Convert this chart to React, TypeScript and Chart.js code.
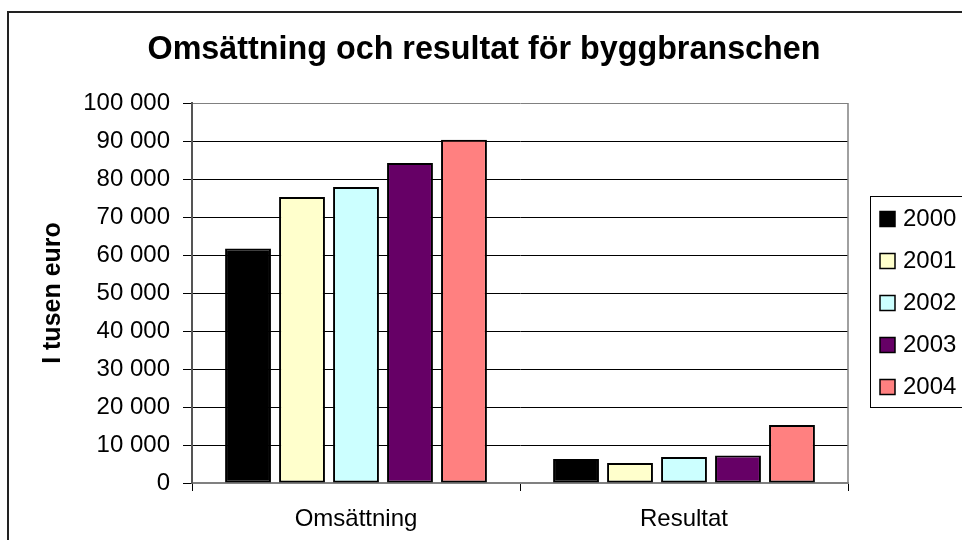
import React, { useEffect, useRef } from "react";
import { Chart, registerables } from "chart.js";
Chart.register(...registerables);

const categories = ["Omsättning", "Resultat"];
const years = ["2000", "2001", "2002", "2003", "2004"];
const omsattning = [61700, 75250, 77900, 84200, 90350];
const resultat = [6300, 5250, 6850, 7250, 15250];
const colors = ["#000000", "#FFFFCC", "#CCFFFF", "#660066", "#FF8080"];
const yMin = 0;
const yMax = 100000;
const yStep = 10000;
const titleText = "Omsättning och resultat för byggbranschen";
const yTitleText = "I tusen euro";

const FONT = "'Liberation Sans', Arial, sans-serif";

const fmt = (v: number) => String(v).replace(/\B(?=(\d{3})+(?!\d))/g, " ");

const framePlugin = {
  id: "frame",
  beforeDraw(chart: any) {
    const ctx = chart.ctx;
    ctx.save();
    ctx.fillStyle = "#ffffff";
    ctx.fillRect(0, 0, chart.width, chart.height);
    ctx.strokeStyle = "#222";
    ctx.lineWidth = 2;
    ctx.strokeRect(8, 12, 1100, 700);
    ctx.restore();
  },
  afterDraw(chart: any) {
    const ctx = chart.ctx;
    const a = chart.chartArea;
    ctx.save();
    // title
    ctx.fillStyle = "#000";
    ctx.font = "bold 32.3px " + FONT;
    ctx.textAlign = "center";
    ctx.textBaseline = "middle";
    ctx.fillText(titleText, 484, 50.5);
    // plot area right border
    ctx.strokeStyle = "#808080";
    ctx.lineWidth = 1.5;
    ctx.beginPath();
    ctx.moveTo(a.right, a.top);
    ctx.lineTo(a.right, a.bottom);
    ctx.stroke();
    // legend
    ctx.strokeStyle = "#000";
    ctx.lineWidth = 1;
    ctx.strokeRect(870.5, 196.5, 200, 211);
    ctx.font = "24px " + FONT;
    ctx.textBaseline = "middle";
    ctx.textAlign = "left";
    chart.data.datasets.forEach((ds: any, i: number) => {
      const y = 219 + 42 * i;
      ctx.fillStyle = ds.backgroundColor;
      ctx.fillRect(880, y - 7.5, 15, 15);
      ctx.strokeStyle = "#000";
      ctx.lineWidth = 1.5;
      ctx.strokeRect(880, y - 7.5, 15, 15);
      ctx.fillStyle = "#000";
      ctx.fillText(ds.label, 903, y);
    });
    ctx.restore();
  },
};

export default function App() {
  const ref = useRef<HTMLCanvasElement>(null);
  useEffect(() => {
    if (!ref.current) return;
    const chart = new Chart(ref.current, {
      type: "bar",
      data: {
        labels: categories,
        datasets: years.map((y, i) => ({
          label: y,
          data: [omsattning[i], resultat[i]],
          backgroundColor: colors[i],
          borderColor: "#000",
          borderWidth: 2,
          borderSkipped: false,
          categoryPercentage: 0.823,
          barPercentage: 0.85,
        })),
      },
      options: {
        responsive: false,
        animation: false,
        layout: { padding: { left: 0, right: 114, top: 103, bottom: 0 } },
        plugins: {
          legend: { display: false },
          tooltip: { enabled: false },
          title: { display: false },
        },
        scales: {
          x: {
            grid: {
              display: true,
              drawOnChartArea: false,
              drawTicks: true,
              tickLength: 8,
              color: "#000",
              offset: true,
            },
            border: { display: true, color: "#808080", width: 1.5 },
            ticks: {
              color: "#000",
              font: { family: FONT, size: 24 },
              padding: 14,
            },
            afterFit(scale: any) {
              scale.height = 57;
            },
          },
          y: {
            min: yMin,
            max: yMax,
            ticks: {
              stepSize: yStep,
              color: "#000",
              font: { family: FONT, size: 24 },
              padding: 13,
              callback: (v: any) => fmt(Number(v)),
            },
            grid: {
              color: (c: any) =>
                c.tick && (c.tick.value === yMax || c.tick.value === 0) ? "#808080" : "#000",
              tickColor: "#000",
              tickLength: 9,
              lineWidth: 1,
            },
            border: { display: true, color: "#555", width: 2 },
            title: {
              display: true,
              text: yTitleText,
              color: "#000",
              font: { family: FONT, size: 25, weight: "bold" },
              padding: { top: 38, bottom: 0 },
            },
            afterFit(scale: any) {
              scale.width = 192;
            },
          },
        },
      },
      plugins: [framePlugin],
    });
    return () => chart.destroy();
  }, []);
  return (
    <div style={{ position: "fixed", left: 0, top: 0, width: 962, height: 540, overflow: "hidden", background: "#fff" }}>
      <canvas ref={ref} width={962} height={540} style={{ display: "block" }} />
    </div>
  );
}
